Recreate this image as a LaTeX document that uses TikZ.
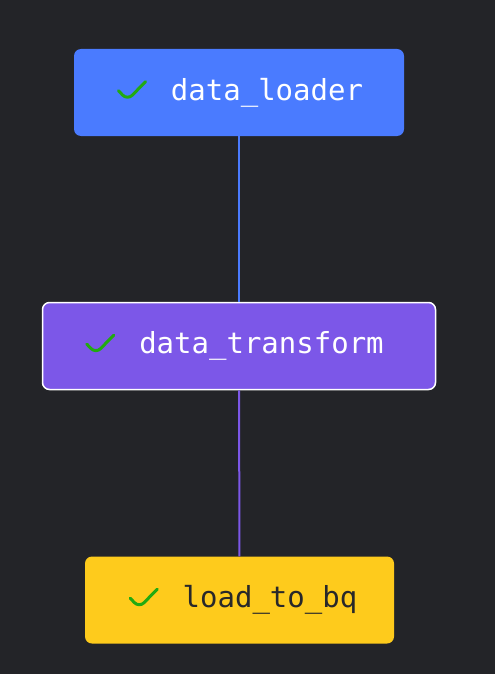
\documentclass[tikz,border=0pt]{standalone}
\usepackage{fontspec}
\newfontfamily\codefont{DejaVu Sans Mono}
\definecolor{bgdark}{RGB}{35,36,40}
\definecolor{loaderblue}{RGB}{74,123,255}
\definecolor{transformpurple}{RGB}{124,87,232}
\definecolor{bqyellow}{RGB}{254,203,28}
\definecolor{okgreen}{RGB}{34,170,17}
\definecolor{darktext}{RGB}{40,40,42}
\newcommand{\okmark}{\tikz[x=1pt,y=1pt,baseline={(0,0)}]\draw[okgreen,line width=3pt,line cap=round,line join=round] (0,9.5) -- (9,0) -- (27,18.5);}

\begin{document}
\begin{tikzpicture}[x=1pt,y=1pt,
  job_node/.style={rectangle,rounded corners=7pt,minimum height=87pt,inner sep=0pt,font=\codefont\fontsize{29}{30}\selectfont,text=white}]

  \fill[bgdark] (0,0) rectangle (495,-674);
  \useasboundingbox (0,0) rectangle (495,-674);

  \node[job_node,fill=loaderblue,minimum width=330pt] (loader) at (239,-92.5) {\hspace*{2pt}\okmark\hspace{24pt}data\_loader};
  \node[job_node,fill=transformpurple,draw=white,line width=1.5pt,minimum width=393pt] (transform) at (239,-346) {\okmark\hspace{24pt}data\_transform\hspace*{9pt}};
  \node[job_node,fill=bqyellow,text=darktext,minimum width=309pt] (bq) at (239.5,-600) {\hspace*{7pt}\okmark\hspace{24pt}load\_to\_bq};

  \draw[loaderblue,line width=2pt] (loader) -- (transform);
  \draw[transformpurple,line width=2pt] (transform) -- (bq);

\end{tikzpicture}
\end{document}
